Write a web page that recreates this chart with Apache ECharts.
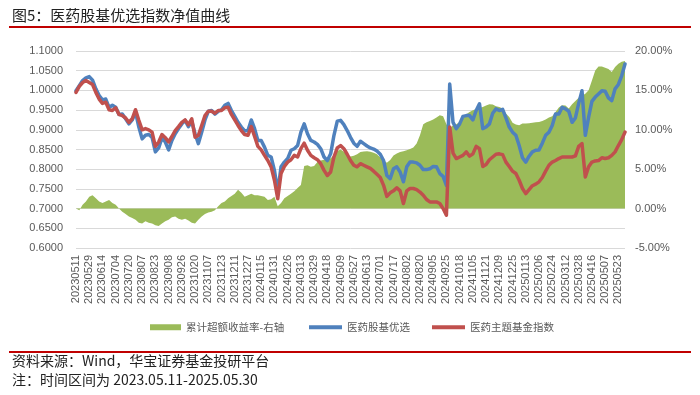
<!DOCTYPE html>
<html>
<head>
<meta charset="utf-8">
<script src="https://cdn.jsdelivr.net/npm/echarts/dist/echarts.min.js"></script>
<style>
html,body{margin:0;padding:0;background:#fff;}
#chart{width:700px;height:395px;}
</style>
</head>
<body>
<div id="chart"></div>
<script>
// ---- Data ----
const tickLabels = ['20230511','20230529','20230614','20230704','20230720','20230807','20230823','20230908','20230926','20231020','20231107','20231123','20231211','20231227','20240115','20240131','20240226','20240313','20240329','20240418','20240509','20240527','20240613','20240701','20240717','20240802','20240820','20240905','20240925','20241018','20241105','20241121','20241209','20241225','20250113','20250206','20250224','20250312','20250328','20250416','20250507','20250523'];

// cumulative excess return (%), right axis
const excessReturn = [
0, -0.2, 0.5, 0.9, 1.5, 1.7, 1.3, 0.9, 0.7, 0.9,
1.1, 0.7, 0.5, 0.0, -0.4, -0.7, -1.0, -1.2, -1.4, -1.8,
-1.9, -1.6, -1.8, -1.9, -2.1, -2.2, -1.9, -1.6, -1.4, -1.1,
-1.0, -1.3, -1.4, -1.3, -1.5, -1.8, -1.9, -1.4, -1.0, -0.7,
-0.5, -0.4, -0.2, 0.3, 0.7, 0.9, 1.3, 1.6, 1.9, 2.4,
2.0, 1.5, 1.7, 1.9, 1.7, 1.7, 1.6, 1.5, 1.1, 1.2,
1.5, 0.3, 0.7, 1.3, 1.6, 1.9, 2.2, 2.6, 3.0, 5.4,
5.5, 5.3, 5.4, 5.9, 6.1, 6.2, 6.2, 6.4, 6.8, 7.3,
7.5, 7.2, 6.8, 6.6, 6.7, 6.9,
7.17, 7.25, 7.29, 7.21, 7.08, 6.91, 6.49, 6.16, 5.82, 6.16,
6.75, 7.00, 7.17, 7.29, 7.42, 7.55, 7.76, 8.26, 9.32, 10.71,
10.96, 11.13, 11.30, 11.55, 11.85, 11.72, 10.71, 10.16, 10.58, 10.71,
11.00, 11.38, 11.97, 12.27, 12.48, 12.65, 12.77, 12.90, 13.07, 13.24,
13.20, 12.99, 12.90, 12.69, 12.06, 11.64, 10.88, 10.67, 10.58, 10.79,
10.79, 10.84, 10.88, 10.96, 11.00, 11.13, 11.30, 11.55, 11.72, 12.27,
12.82, 13.11, 13.07, 12.69, 13.24, 13.66, 14.08, 14.33, 14.59, 15.01,
16.27, 17.54, 18.04, 18.04, 17.88, 17.71, 17.33, 17.96, 18.38, 18.63,
18.72
];

// 医药股基优选 net value, left axis
const pharmaSelect = [
0.999, 1.012, 1.025, 1.032, 1.035, 1.026, 1.004, 0.987, 0.976, 0.978,
0.957, 0.962, 0.957, 0.939, 0.940, 0.928, 0.915, 0.925, 0.945, 0.907,
0.877, 0.886, 0.888, 0.881, 0.844, 0.854, 0.880, 0.869, 0.849, 0.873,
0.890, 0.903, 0.915, 0.924, 0.908, 0.922, 0.890, 0.865, 0.894, 0.925,
0.947, 0.949, 0.940, 0.947, 0.951, 0.962, 0.967, 0.949, 0.934, 0.919,
0.907, 0.897, 0.898, 0.925, 0.903, 0.873, 0.873, 0.856, 0.835, 0.831,
0.797, 0.742, 0.806, 0.818, 0.827, 0.848, 0.852, 0.860, 0.894, 0.915,
0.890, 0.873, 0.869, 0.863, 0.852, 0.831, 0.822, 0.839, 0.886, 0.922,
0.924, 0.913, 0.898, 0.881, 0.866, 0.858, 0.871, 0.865, 0.859, 0.854,
0.851, 0.846, 0.838, 0.822, 0.784, 0.776, 0.801, 0.806, 0.793, 0.768,
0.806, 0.818, 0.818, 0.816, 0.810, 0.799, 0.799, 0.801, 0.807, 0.806,
0.789, 0.782, 0.759, 1.016, 0.919, 0.903, 0.915, 0.934, 0.936, 0.936,
0.925, 0.949, 0.966, 0.903, 0.907, 0.915, 0.942, 0.953, 0.949, 0.952,
0.930, 0.907, 0.894, 0.886, 0.860, 0.829, 0.818, 0.833, 0.844, 0.848,
0.849, 0.866, 0.886, 0.894, 0.911, 0.940, 0.940, 0.957, 0.953, 0.947,
0.919, 0.930, 0.967, 0.999, 0.886, 0.932, 0.972, 0.983, 0.991, 0.999,
0.998, 0.981, 0.974, 1.004, 1.015, 1.037, 1.067
];

// 医药主题基金指数 net value, left axis
const pharmaTheme = [
0.995, 1.010, 1.020, 1.025, 1.020, 1.015, 0.995, 0.978, 0.967, 0.970,
0.951, 0.949, 0.956, 0.939, 0.936, 0.930, 0.919, 0.928, 0.951, 0.924,
0.900, 0.903, 0.900, 0.894, 0.858, 0.869, 0.888, 0.880, 0.869, 0.883,
0.898, 0.908, 0.919, 0.925, 0.913, 0.928, 0.881, 0.886, 0.911, 0.936,
0.947, 0.947, 0.942, 0.949, 0.949, 0.956, 0.957, 0.939, 0.925, 0.911,
0.898, 0.888, 0.886, 0.908, 0.883, 0.858, 0.849, 0.835, 0.822, 0.806,
0.772, 0.725, 0.789, 0.807, 0.818, 0.824, 0.835, 0.831, 0.852, 0.866,
0.848, 0.835, 0.829, 0.824, 0.814, 0.797, 0.784, 0.793, 0.831, 0.854,
0.860, 0.852, 0.838, 0.822, 0.810, 0.806, 0.814, 0.810, 0.806, 0.802,
0.795, 0.787, 0.779, 0.759, 0.731, 0.740, 0.745, 0.753, 0.745, 0.713,
0.745, 0.751, 0.751, 0.748, 0.742, 0.734, 0.723, 0.717, 0.717, 0.717,
0.713, 0.700, 0.683, 0.907, 0.841, 0.827, 0.831, 0.835, 0.844, 0.833,
0.839, 0.858, 0.852, 0.807, 0.812, 0.824, 0.831, 0.838, 0.839, 0.837,
0.818, 0.807, 0.795, 0.789, 0.772, 0.751, 0.738, 0.748, 0.758, 0.762,
0.768, 0.779, 0.795, 0.810, 0.818, 0.822, 0.827, 0.831, 0.831, 0.831,
0.831, 0.834, 0.858, 0.865, 0.780, 0.806, 0.818, 0.821, 0.822, 0.829,
0.827, 0.829, 0.835, 0.844, 0.860, 0.875, 0.894
];

const seriesNames = ['累计超额收益率-右轴', '医药股基优选', '医药主题基金指数'];
const leftTicks = { min: 0.6, max: 1.1, interval: 0.05 };
const rightTicks = { min: -5, max: 20, interval: 5 };

// ---- Build category list: each labelled date followed by 3 unlabelled sample points ----
const STEP = 4;
const categories = [];
tickLabels.forEach((lab, k) => {
  categories.push(lab);
  if (k < tickLabels.length - 1) {
    for (let j = 1; j < STEP; j++) categories.push(lab + '#' + j);
  }
});
categories.push('20250527#');
categories.push('20250530#');

const numFont = "'Liberation Sans', Arial, 'Noto Sans CJK SC', sans-serif";
const cjkFont = "'Noto Sans CJK SC', 'Liberation Sans', sans-serif";
const gray = '#595959';

const chart = echarts.init(document.getElementById('chart'), null, { renderer: 'canvas' });
chart.setOption({
  animation: false,
  backgroundColor: '#ffffff',
  graphic: [
    { type: 'text', left: 12, top: 8, style: { text: '图5：医药股基优选指数净值曲线', font: "15px " + cjkFont, fill: '#222' } },
    { type: 'line', shape: { x1: 9, y1: 27, x2: 691, y2: 27 }, style: { stroke: '#C00000', lineWidth: 2 } },
    { type: 'line', shape: { x1: 9, y1: 352, x2: 691, y2: 352 }, style: { stroke: '#C00000', lineWidth: 2 } },
    { type: 'text', left: 12, top: 354, style: { text: '资料来源：Wind，华宝证券基金投研平台', font: "14px " + cjkFont, fill: '#222' } },
    { type: 'text', left: 12, top: 373, style: { text: '注：时间区间为 2023.05.11-2025.05.30', font: "14px " + cjkFont, fill: '#222' } }
  ],
  legend: [
    {
      data: [seriesNames[0]],
      left: 145, top: 317,
      icon: 'rect', itemWidth: 31, itemHeight: 6,
      textStyle: { color: gray, fontSize: 10.5, fontFamily: cjkFont }
    },
    {
      data: [seriesNames[1], seriesNames[2]],
      left: 304, top: 317,
      icon: 'rect', itemWidth: 33, itemHeight: 4, itemGap: 22,
      textStyle: { color: gray, fontSize: 10.5, fontFamily: cjkFont }
    }
  ],
  grid: { left: 76, right: 75, top: 51, bottom: 147 },
  xAxis: {
    type: 'category',
    data: categories,
    boundaryGap: false,
    axisLine: { show: false },
    axisTick: { show: false },
    splitLine: { show: false },
    axisLabel: {
      rotate: 90,
      margin: 7,
      color: gray,
      fontSize: 11,
      fontFamily: numFont,
      interval: (idx, val) => val.indexOf('#') < 0
    }
  },
  yAxis: [
    {
      type: 'value',
      min: leftTicks.min, max: leftTicks.max, interval: leftTicks.interval,
      axisLine: { show: false }, axisTick: { show: false },
      splitLine: { lineStyle: { color: '#D9D9D9', width: 1 } },
      axisLabel: { margin: 13, color: gray, fontSize: 11, fontFamily: numFont, formatter: v => v.toFixed(4) }
    },
    {
      type: 'value',
      min: rightTicks.min, max: rightTicks.max, interval: rightTicks.interval,
      axisLine: { show: false }, axisTick: { show: false },
      splitLine: { show: false },
      axisLabel: { margin: 10, color: gray, fontSize: 11, fontFamily: numFont, formatter: v => v.toFixed(2) + '%' }
    }
  ],
  series: [
    {
      name: seriesNames[0], type: 'line', yAxisIndex: 1,
      data: excessReturn, color: '#9BBB59',
      showSymbol: false, symbol: 'none',
      lineStyle: { width: 0 },
      areaStyle: { color: '#9BBB59', opacity: 1 },
      z: 1
    },
    {
      name: seriesNames[1], type: 'line', yAxisIndex: 0,
      data: pharmaSelect, color: '#4F81BD',
      showSymbol: false, symbol: 'none',
      lineStyle: { width: 3.5, color: '#4F81BD', join: 'round', cap: 'round' },
      z: 2
    },
    {
      name: seriesNames[2], type: 'line', yAxisIndex: 0,
      data: pharmaTheme, color: '#C0504D',
      showSymbol: false, symbol: 'none',
      lineStyle: { width: 3.5, color: '#C0504D', join: 'round', cap: 'round' },
      z: 3
    }
  ]
});
</script>
</body>
</html>
